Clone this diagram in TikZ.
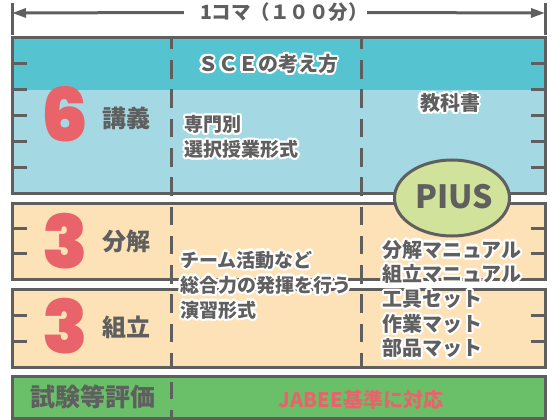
\documentclass[tikz,border=0pt]{standalone}
\usepackage{fontspec}
\setmainfont{Noto Sans CJK JP}
\newfontfamily\numfont{Poppins Black}
\usetikzlibrary{shapes.geometric,arrows.meta}
\definecolor{gr}{HTML}{5F5F5F}
\definecolor{tealc}{HTML}{56C4D0}
\definecolor{lblue}{HTML}{A4D9E4}
\definecolor{peach}{HTML}{FDE2B8}
\definecolor{greenc}{HTML}{6ABF69}
\definecolor{piusc}{HTML}{D1E29B}
\definecolor{redc}{HTML}{E8646A}
\newcommand\hc[3]{\rlap{\kern#1\raise#2\hbox{#3}}}
\newcommand\halo[1]{\leavevmode{\color{white}%
\hc{2.2pt}{0pt}{#1}\hc{1.9pt}{1.1pt}{#1}\hc{1.1pt}{1.9pt}{#1}\hc{0pt}{2.2pt}{#1}%
\hc{-1.1pt}{1.9pt}{#1}\hc{-1.9pt}{1.1pt}{#1}\hc{-2.2pt}{0pt}{#1}\hc{-1.9pt}{-1.1pt}{#1}%
\hc{-1.1pt}{-1.9pt}{#1}\hc{0pt}{-2.2pt}{#1}\hc{1.1pt}{-1.9pt}{#1}\hc{1.9pt}{-1.1pt}{#1}}#1}
\begin{document}
\begin{tikzpicture}[x=1pt,y=-1pt,
  frame/.style={draw=gr,line width=3pt},
  tick/.style={draw=gr,line width=3pt},
  dline/.style={draw=gr,line width=3pt,dash pattern=on 18.5pt off 10.75pt,dash phase=7pt},
  dlineg/.style={draw=gr,line width=3pt,dash pattern=on 17pt off 11pt,dash phase=22pt},
  dim/.style={draw=gr,line width=3pt,-{Triangle[length=14pt,width=9pt]}},
  bignum/.style={text=redc,font=\numfont\fontsize{74}{74}\selectfont,anchor=base,inner sep=0pt},
  lab/.style={text=gr,font=\bfseries\fontsize{24}{24}\selectfont,inner sep=0pt},
  body/.style={text=gr,font=\bfseries\fontsize{19}{25}\selectfont,inner sep=0pt,align=left,anchor=west},
  rbody/.style={text=gr,font=\bfseries\fontsize{20}{24.7}\selectfont,inner sep=0pt,align=left,anchor=west},
]
\useasboundingbox (0,0) rectangle (555,420);
% fills
\fill[tealc] (12,38) rectangle (545,90);
\fill[lblue] (12,90) rectangle (545,193);
\fill[peach] (12,203) rectangle (545,279);
\fill[peach] (12,289) rectangle (545,367);
\fill[greenc] (12,376) rectangle (545,418);
% ticks
\foreach \y in {63.8,89.7,115.5,141.3,167.2,228.3,253.7,315,341}{
  \draw[tick] (12,\y) -- (27,\y);
  \draw[tick] (531,\y) -- (545,\y);
}
% dashed columns
\draw[dline] (171,38) -- (171,367);
\draw[dline] (361,38) -- (361,367);
\draw[dlineg] (171,376) -- (171,418);
% frames
\draw[frame] (12,38) rectangle (545,193);
\draw[frame] (12,203) rectangle (545,279);
\draw[frame] (12,289) rectangle (545,367);
\draw[frame] (12,376) rectangle (545,418);
% dimension line
\coordinate (dl) at (12,13);
\coordinate (dr) at (545,13);
\draw[tick] (12,3) -- (12,35);
\draw[tick] (545,3) -- (545,35);
\node[text=gr,font=\bfseries\fontsize{19.5}{19.5}\selectfont,inner sep=0pt] (title) at (284,12.5) {1コマ（１００分）};
\draw[dim] ([xshift=-16pt]title.west) -- (dl);
\draw[dim] ([xshift=-1pt]title.east) -- (dr);
% PIUS
\node[ellipse,draw=gr,line width=3pt,fill=piusc,minimum width=115pt,minimum height=76pt,inner sep=0pt] (pius) at (452,198) {};
\node[text=gr,font=\bfseries\fontsize{32}{32}\selectfont,inner sep=0pt] (piust) at (454,197) {PIUS};
% texts
\node[text=gr,font=\bfseries\fontsize{20}{20}\selectfont,inner sep=0pt] (sce) at (268,64) {\halo{ＳＣＥの考え方}};
\node[bignum] (n6) at (65,142) {6};
\node[lab] (kogi) at (126,118) {講義};
\node[body] (senmon) at (184,137) {\halo{専門別}\\\halo{選択授業形式}};
\node[text=gr,font=\bfseries\fontsize{20}{20}\selectfont,inner sep=0pt] (kyoka) at (450,103) {\halo{教科書}};
\node[bignum] (n3a) at (65,268) {3};
\node[lab] (bunkai) at (126,241.5) {分解};
\node[bignum] (n3b) at (65,353) {3};
\node[lab] (kumi) at (126,327) {組立};
\node[body] (team) at (180,285) {\halo{チーム活動など}\\\halo{総合力の発揮を行う}\\\halo{演習形式}};
\node[rbody] (tools) at (382,299) {\halo{分解マニュアル}\\\halo{組立マニュアル}\\\halo{工具セット}\\\halo{作業マット}\\\halo{部品マット}};
\node[text=gr,font=\bfseries\fontsize{25}{25}\selectfont,inner sep=0pt] (shiken) at (93,397) {試験等評価};
\node[text=redc,font=\bfseries\fontsize{20}{20}\selectfont,inner sep=0pt] (jabee) at (361,400) {JABEE基準に対応};
\end{tikzpicture}
\end{document}
